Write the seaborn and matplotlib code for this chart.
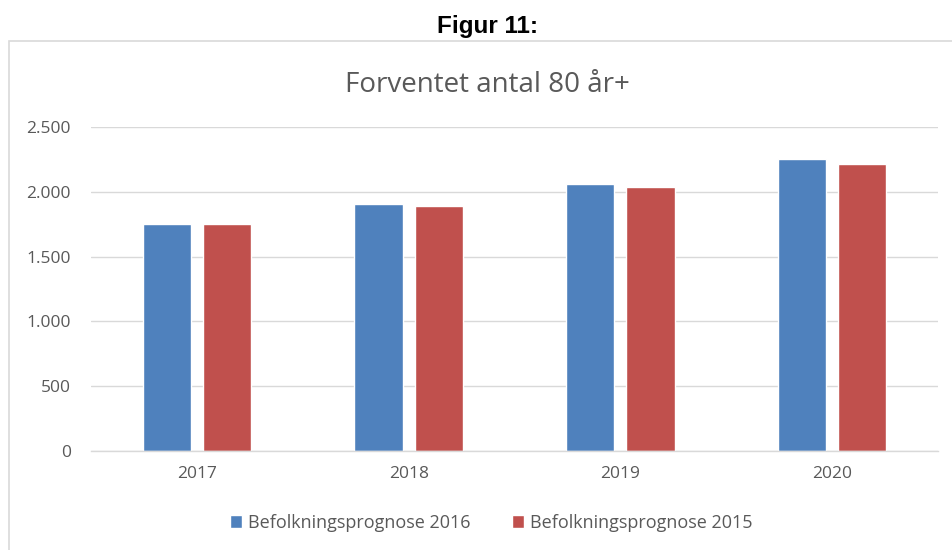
import matplotlib
matplotlib.use("Agg")
import matplotlib.pyplot as plt
import seaborn as sns
import pandas as pd
from matplotlib.patches import Rectangle
from matplotlib.ticker import FuncFormatter

years = ["2017", "2018", "2019", "2020"]
prognose_2016 = [1755, 1909, 2060, 2251]
prognose_2015 = [1749, 1893, 2035, 2217]
series_names = ["Befolkningsprognose 2016", "Befolkningsprognose 2015"]
colors = ["#4F81BD", "#C0504D"]

df = pd.DataFrame({
    "year": years * 2,
    "value": prognose_2016 + prognose_2015,
    "series": [series_names[0]] * 4 + [series_names[1]] * 4,
})

sns.set_theme(style="white")
plt.rcParams['font.family'] = ['Open Sans', 'DejaVu Sans']

W, H = 952, 550
fig = plt.figure(figsize=(W / 100, H / 100), dpi=100)
fig.patch.set_facecolor("white")

# chart border
fig.patches.append(Rectangle((9 / W, -0.01), (W + 5 - 9) / W, (H - 41) / H + 0.01,
                             transform=fig.transFigure, fill=False,
                             edgecolor="#D9D9D9", linewidth=1.2, zorder=0))

ax = fig.add_axes([91 / W, (H - 451) / H, (938 - 91) / W, (451 - 127) / H])
sns.barplot(data=df, x="year", y="value", hue="series", palette=colors,
            width=0.57, gap=0.2, ax=ax, legend=True, saturation=1)

ax.set_ylim(0, 2500)
ax.set_xlim(-0.5, 3.5)
ax.set_yticks([0, 500, 1000, 1500, 2000, 2500])
ax.yaxis.set_major_formatter(FuncFormatter(lambda v, p: f"{int(v):,}".replace(",", ".")))
ax.grid(axis="y", color="#D9D9D9", linewidth=1)
ax.set_axisbelow(True)
for s in ["top", "right", "left"]:
    ax.spines[s].set_visible(False)
ax.spines["bottom"].set_color("#D9D9D9")
ax.spines["bottom"].set_linewidth(1)
ax.tick_params(axis="both", length=0, colors="#595959", labelsize=12.5)
ax.tick_params(axis="y", pad=14.5)
ax.tick_params(axis="x", pad=11)
ax.set_xlabel("")
ax.set_ylabel("")

leg = ax.legend(loc="center", bbox_to_anchor=((491 - 91) / (938 - 91), -(523 - 451) / (451 - 127)),
                ncol=2, frameon=False, fontsize=13, handlelength=0.7, handleheight=0.7,
                handletextpad=0.3, columnspacing=2.3, borderaxespad=0)
for t in leg.get_texts():
    t.set_color("#595959")

fig.text(488 / W, 1 - 33 / H, "Figur 11:", ha="center", va="baseline",
         fontsize=17.5, fontweight="bold", family=["Liberation Sans", "DejaVu Sans"], color="black")
fig.text(487 / W, 1 - 92 / H, "Forventet antal 80 år+", ha="center", va="baseline",
         fontsize=20, color="#595959")

fig.savefig("out.png", dpi=100, facecolor="white")
